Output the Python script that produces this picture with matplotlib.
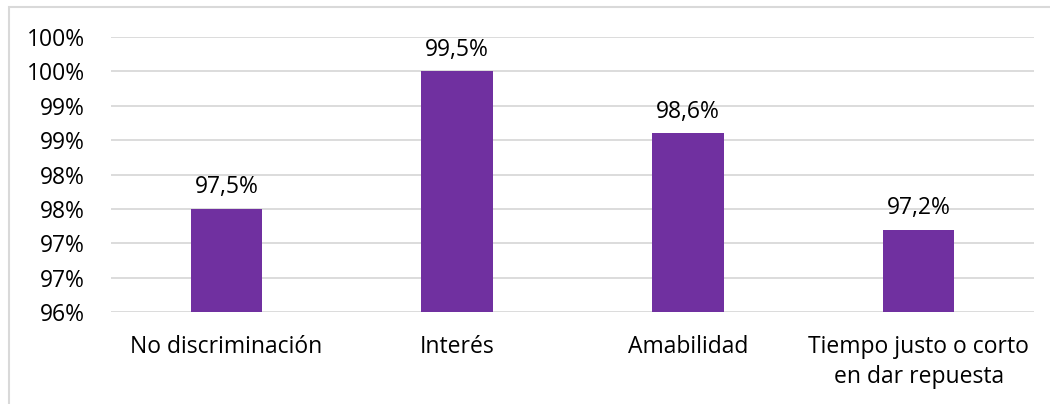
import matplotlib
matplotlib.use("Agg")
import matplotlib.pyplot as plt
from matplotlib.patches import Rectangle

categories = ["No discriminación", "Interés", "Amabilidad", "Tiempo justo o corto\nen dar repuesta"]
values = [97.5, 99.5, 98.6, 97.2]
value_labels = ["97,5%", "99,5%", "98,6%", "97,2%"]
y_ticks = [96.0, 96.5, 97.0, 97.5, 98.0, 98.5, 99.0, 99.5, 100.0]
y_tick_labels = ["96%", "97%", "97%", "98%", "98%", "99%", "99%", "100%", "100%"]

plt.rcParams["font.family"] = ["Open Sans", "DejaVu Sans"]
FS = 16.5

W, H = 1050, 404
fig = plt.figure(figsize=(W / 100, H / 100), dpi=100)
fig.patch.set_facecolor("white")

# chart frame (only top and left edges fall inside the canvas)
fig.patches.append(Rectangle((9 / W, -0.1), 1.2, 1 - 7 / H + 0.1, transform=fig.transFigure,
                             fill=False, edgecolor="#D9D9D9", linewidth=1.5))

ax = fig.add_axes([111 / W, 1 - 312 / H, (1034 - 111) / W, (312 - 37) / H])
x = range(len(categories))
ax.bar(x, values, width=0.31, color="#7030A0", bottom=0, zorder=3)

ax.set_ylim(96, 100)
ax.set_xlim(-0.5, len(categories) - 0.5)
ax.set_yticks(y_ticks)
ax.set_yticklabels(y_tick_labels, fontsize=FS, color="#000000")
ax.set_xticks(list(x))
ax.set_xticklabels(categories, fontsize=FS, color="#000000", linespacing=1.35)
ax.tick_params(axis="both", length=0)
ax.tick_params(axis="y", pad=19)
ax.tick_params(axis="x", pad=16.5)
ax.grid(axis="y", color="#D9D9D9", linewidth=1.3, zorder=0)
for s in ax.spines.values():
    s.set_visible(False)

for xi, v, lab in zip(x, values, value_labels):
    ax.annotate(lab, (xi, v), xytext=(0, 7), textcoords="offset points",
                ha="center", va="bottom", fontsize=FS, color="#000000")

fig.savefig("out.png", dpi=100, facecolor="white")
